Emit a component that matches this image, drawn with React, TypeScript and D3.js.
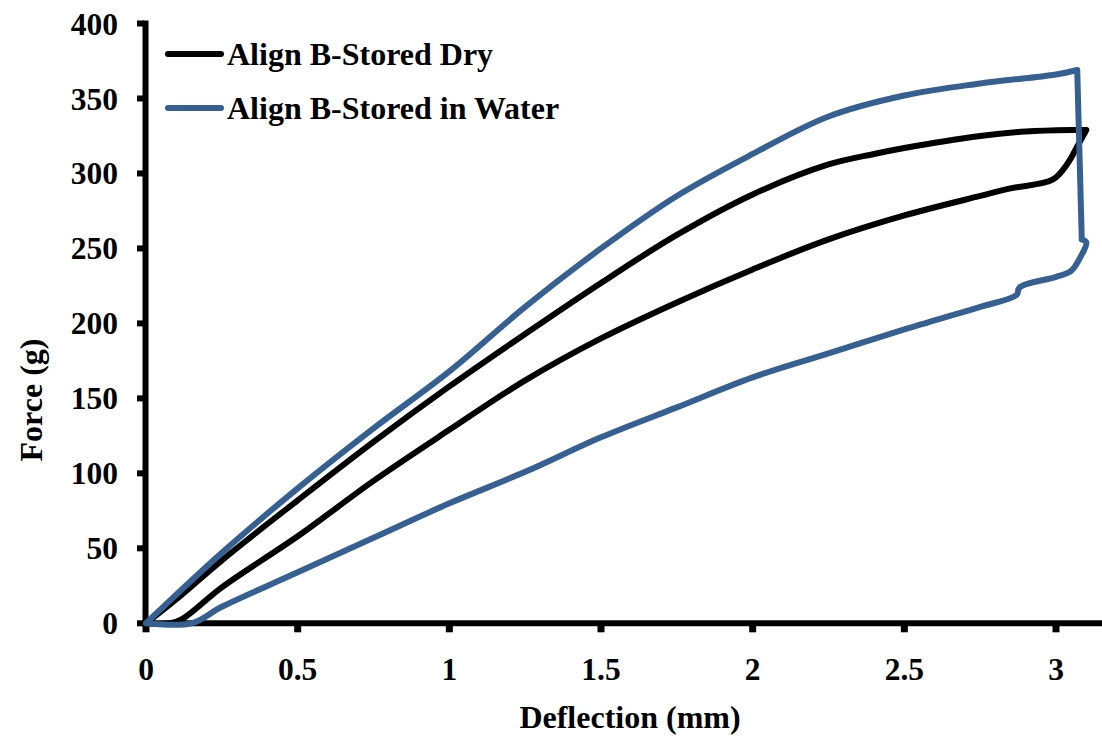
import * as d3 from "d3";

// Align B-Stored Dry (black): loading branch, then unloading branch
const dryDeflection = [
  0, 0.1, 0.25, 0.5, 0.75, 1, 1.25, 1.5, 1.75, 2, 2.25, 2.4, 2.5, 2.75, 2.9, 3.05, 3.1,
  3.07, 3.036, 2.99, 2.85, 2.75, 2.5, 2.25, 2, 1.75, 1.5, 1.25, 1, 0.75, 0.5, 0.25, 0.12, 0.08, 0,
];
const dryForce = [
  0, 16, 42, 82, 121, 158, 193, 227, 259, 286, 306, 313, 317, 325, 328, 329, 329,
  318, 306, 296, 290, 285, 272, 256, 236, 214, 190, 162, 129, 95, 58, 24, 3, 0, 0,
];

// Align B-Stored in Water (blue)
const waterDeflection = [
  0, 0.25, 0.5, 0.75, 1, 1.25, 1.5, 1.75, 2, 2.25, 2.5, 2.75, 3, 3.07,
  3.085, 3.1, 3.08, 3.05, 3, 2.88, 2.87, 2.75, 2.5, 2.25, 2, 1.75, 1.5, 1.25, 1, 0.75, 0.5, 0.25, 0.15, 0,
];
const waterForce = [
  0, 47, 90, 130, 168, 211, 250, 285, 313, 338, 352, 360, 366, 369,
  256, 254, 244, 235, 231, 224, 219, 211, 196, 180, 164, 144, 124, 101, 80, 57, 34, 11, 0, 0,
];

// index where each loop turns around (end of loading)
const turnIndex = [16, 13];

const xTicks = [0, 0.5, 1, 1.5, 2, 2.5, 3];
const yTicks = [0, 50, 100, 150, 200, 250, 300, 350, 400];

const seriesNames = ["Align B-Stored Dry", "Align B-Stored in Water"];
const seriesColors = ["#000000", "#376092"];

const W = 1102;
const H = 750;
const FONT = "'Liberation Serif', 'Times New Roman', Times, serif";

type Pt = [number, number];

export default function App() {
  const x = d3.scaleLinear().domain([0, 3]).range([146, 1056]);
  const y = d3.scaleLinear().domain([0, 400]).range([623.3, 23.5]);

  const smooth = d3
    .line<Pt>()
    .x((d) => x(d[0]))
    .y((d) => y(d[1]))
    .curve(d3.curveCatmullRom.alpha(0.5));
  const straight = d3
    .line<Pt>()
    .x((d) => x(d[0]))
    .y((d) => y(d[1]));

  const series = [
    dryDeflection.map((d, i) => [d, dryForce[i]] as Pt),
    waterDeflection.map((d, i) => [d, waterForce[i]] as Pt),
  ];

  // loading branch smooth, turnaround straight, unloading smooth
  const pathFor = (pts: Pt[], k: number) =>
    (smooth(pts.slice(0, k + 1)) || "") +
    (straight(pts.slice(k, k + 2)) || "") +
    (smooth(pts.slice(k + 1)) || "");

  return (
    <svg
      width={W}
      height={H}
      style={{ position: "absolute", left: 0, top: 0, background: "#fff", fontFamily: FONT, fontWeight: "bold" }}
    >
      {/* y axis */}
      <line x1={x(0) - 0.5} x2={x(0) - 0.5} y1={y(400) - 3} y2={y(0) + 3} stroke="#000" strokeWidth={6} />
      {yTicks.map((t) => (
        <g key={"y" + t}>
          <line x1={x(0) - 9} x2={x(0) - 2} y1={y(t)} y2={y(t)} stroke="#000" strokeWidth={6} />
          <text x={118} y={y(t)} dy="0.35em" textAnchor="end" fontSize={31.5}>
            {t}
          </text>
        </g>
      ))}

      {/* x axis */}
      <line x1={x(0) - 4} x2={W} y1={y(0)} y2={y(0)} stroke="#000" strokeWidth={6} />
      {xTicks.map((t) => (
        <g key={"x" + t}>
          <line x1={x(t)} x2={x(t)} y1={y(0) + 2} y2={y(0) + 9} stroke="#000" strokeWidth={7} />
          <text x={x(t)} y={680} textAnchor="middle" fontSize={31.5}>
            {t}
          </text>
        </g>
      ))}

      {/* curves */}
      {series.map((s, i) => (
        <path
          key={i}
          d={pathFor(s, turnIndex[i])}
          fill="none"
          stroke={seriesColors[i]}
          strokeWidth={6}
          strokeLinejoin="round"
          strokeLinecap="round"
        />
      ))}

      {/* legend */}
      {seriesNames.map((name, i) => (
        <g key={name} transform={`translate(0, ${54 + i * 54})`}>
          <line x1={168} x2={221} y1={0} y2={0} stroke={seriesColors[i]} strokeWidth={6} strokeLinecap="round" />
          <text x={227} y={0} dy="0.35em" fontSize={32}>
            {name}
          </text>
        </g>
      ))}

      {/* axis titles */}
      <text x={630} y={728} textAnchor="middle" fontSize={32}>
        Deflection (mm)
      </text>
      <text transform="translate(42, 400) rotate(-90)" textAnchor="middle" fontSize={32}>
        Force (g)
      </text>
    </svg>
  );
}
